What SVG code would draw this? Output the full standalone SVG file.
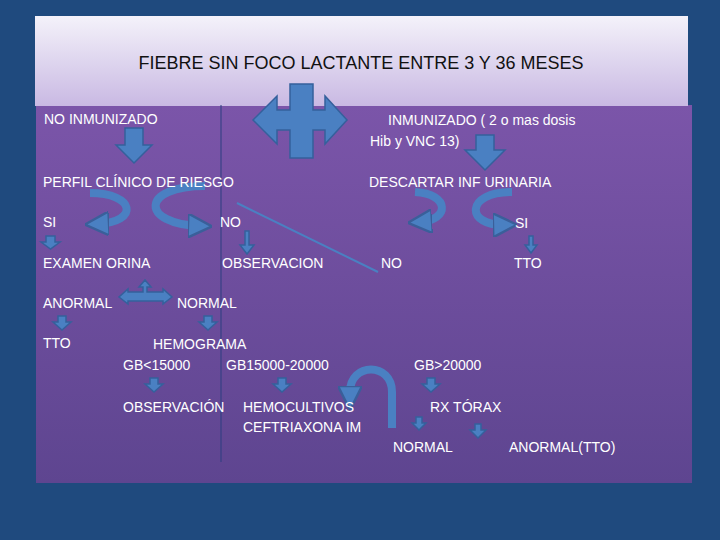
<svg xmlns="http://www.w3.org/2000/svg" width="720" height="540" viewBox="0 0 720 540">
<defs>
<linearGradient id="tg" x1="0" y1="0" x2="0" y2="1"><stop offset="0" stop-color="#f4f2fa"/><stop offset="1" stop-color="#c9b9e3"/></linearGradient>
<linearGradient id="pg" x1="0" y1="0" x2="0" y2="1"><stop offset="0" stop-color="#7b55a9"/><stop offset="1" stop-color="#5e4590"/></linearGradient>
<marker id="mh" viewBox="0 0 10 10" refX="5" refY="5" markerWidth="3" markerHeight="3" orient="auto"><path d="M0,0 L10,5 L0,10 Z" fill="#4a80c2" stroke="#3a5f9a"/></marker>
</defs>
<style>
.t{font-family:"Liberation Sans",Arial,sans-serif;font-size:14px;fill:#ffffff}
.a{fill:#4a80c2;stroke:#35609c;stroke-width:1.5}
.c{fill:none;stroke:#4a80c2;stroke-width:8}
</style>
<rect width="720" height="540" fill="#1f4a7e"/>
<rect x="36" y="105" width="656" height="378" fill="url(#pg)"/>
<g id="title"><rect x="35" y="16" width="653" height="90" fill="url(#tg)"/>
<text x="361" y="69" text-anchor="middle" font-family="Liberation Sans, Arial, sans-serif" font-size="18" fill="#111">FIEBRE SIN FOCO LACTANTE ENTRE 3 Y 36 MESES</text></g>
<g id="connectors">
<line x1="221" y1="105" x2="221" y2="462" stroke="#2d3f80" stroke-width="1"/>
<line x1="237" y1="203" x2="378" y2="272" stroke="#4a80c2" stroke-width="2"/>
<path class="a" d="M290,84 H313 V110 H325 V96 L347,120 L325,144 V130 H313 V158 H290 V130 H277 V144 L253,120 L277,96 V110 H290 Z"/>
<path class="a" d="M125,128 H143 V145 H152 L134,163 L116,145 H125 Z"/>
<path class="a" d="M476,135 H494 V150 H505 L485,170 L465,150 H476 Z"/>
<path class="c" d="M90,193 C135,193 140,222 97,224" marker-end="url(#mh)"/>
<path class="c" d="M205,186 C140,186 140,224 200,226" marker-end="url(#mh)"/>
<path class="c" d="M415,192 C450,194 450,220 420,222" marker-end="url(#mh)"/>
<path class="c" d="M512,192 C465,192 465,226 505,225" marker-end="url(#mh)"/>
<path class="a" d="M46,236 H55 V242 H60 L50.5,249 L41,242 H46 Z"/>
<path class="a" d="M245,231 H249 V245 H254 L247,254 L240,245 H245 Z"/>
<path class="a" d="M529,236 H533 V245 H537 L531,253 L525,245 H529 Z"/>
<path class="a" d="M143,292 V287 H139 L145,280 L151,287 H147 V292 H163 V289 L172,297 L163,304 V301 H128 V304 L119,297 L128,289 V292 Z"/>
<path class="a" d="M58,316 H66 V322 H71 L62,330 L53,322 H58 Z"/>
<path class="a" d="M204,316 H212 V322 H217 L208,330 L199,322 H204 Z"/>
<path class="a" d="M150,378 H158 V384 H163 L154,392 L145,384 H150 Z"/>
<path class="a" d="M278,378 H286 V384 H291 L282,392 L273,384 H278 Z"/>
<path class="a" d="M427,378 H435 V384 H440 L431,392 L422,384 H427 Z"/>
<path class="a" d="M416,417 H422 V423 H426 L419,430 L412,423 H416 Z"/>
<path class="a" d="M475,424 H481 V430 H486 L478,438 L470,430 H475 Z"/>
<path class="c" d="M392,428 V392 C392,362 350,362 350,392 V398" marker-end="url(#mh)"/>
</g>
<g id="nodes">
<g id="n1"><text class="t" x="44" y="124" font-size="15">NO INMUNIZADO</text></g>
<g id="n2"><text class="t" x="388" y="125">INMUNIZADO ( 2 o mas dosis</text><text class="t" x="370" y="146">Hib y VNC 13)</text></g>
<g id="n3"><text class="t" x="43" y="187">PERFIL CLÍNICO DE RIESGO</text></g>
<g id="n4"><text class="t" x="369" y="187">DESCARTAR INF URINARIA</text></g>
<g id="n5"><text class="t" x="43" y="227">SI</text></g>
<g id="n6"><text class="t" x="220" y="227">NO</text></g>
<g id="n7"><text class="t" x="515" y="228">SI</text></g>
<g id="n8"><text class="t" x="43" y="268">EXAMEN ORINA</text></g>
<g id="n9"><text class="t" x="222" y="268">OBSERVACION</text></g>
<g id="n10"><text class="t" x="381" y="268">NO</text></g>
<g id="n11"><text class="t" x="514" y="268">TTO</text></g>
<g id="n12"><text class="t" x="43" y="308">ANORMAL</text></g>
<g id="n13"><text class="t" x="177" y="308">NORMAL</text></g>
<g id="n14"><text class="t" x="43" y="348">TTO</text></g>
<g id="n15"><text class="t" x="153" y="349">HEMOGRAMA</text></g>
<g id="n16"><text class="t" x="123" y="370">GB&lt;15000</text></g>
<g id="n17"><text class="t" x="226" y="370">GB15000-20000</text></g>
<g id="n18"><text class="t" x="414" y="370">GB&gt;20000</text></g>
<g id="n19"><text class="t" x="123" y="412">OBSERVACIÓN</text></g>
<g id="n20"><text class="t" x="243" y="412">HEMOCULTIVOS</text><text class="t" x="243" y="432">CEFTRIAXONA IM</text></g>
<g id="n21"><text class="t" x="430" y="412">RX TÓRAX</text></g>
<g id="n22"><text class="t" x="393" y="452">NORMAL</text></g>
<g id="n23"><text class="t" x="509" y="452">ANORMAL(TTO)</text></g>
</g>
</svg>
